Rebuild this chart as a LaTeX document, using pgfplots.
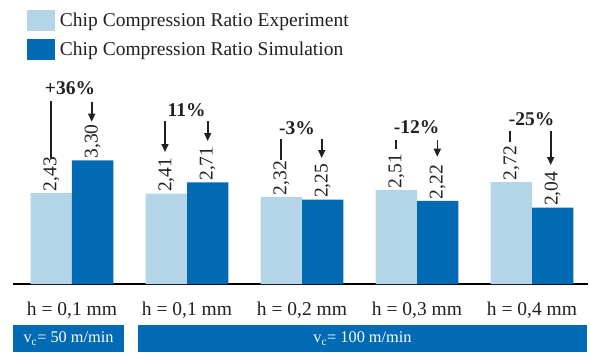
\documentclass[border=0pt]{standalone}
\usepackage{pgfplots}
\pgfplotsset{compat=1.18}
\usepackage{fontspec}
\setmainfont{Liberation Serif}
\usetikzlibrary{arrows.meta}

\definecolor{expblue}{RGB}{180,212,232}
\definecolor{simblue}{RGB}{0,107,180}
\definecolor{txt}{RGB}{35,31,32}

\newcommand{\chartfont}{\fontsize{19.5bp}{22bp}\selectfont}
\newcommand{\bandfont}{\fontsize{16.3bp}{19bp}\selectfont}

\begin{document}
\begin{tikzpicture}[x=1bp,y=1bp]
\useasboundingbox (0,0) rectangle (590,352);

\begin{axis}[
  at={(13bp,68bp)}, anchor=south west,
  scale only axis, width=575bp, height=284bp,
  ymin=0, ymax=7.5733,
  xmin=-0.513, xmax=4.487,
  ybar=0pt, bar width=0.36,
  axis x line*=bottom, axis y line=none,
  x axis line style={line width=1.8bp, -},
  xtick=data,
  xticklabels={h = 0{,}1 mm, h = 0{,}1 mm, h = 0{,}2 mm, h = 0{,}3 mm, h = 0{,}4 mm},
  major tick length=0pt,
  xticklabel style={font=\chartfont, text=txt, anchor=center, yshift=-26bp},
  nodes near coords,
  every node near coord/.append style={rotate=90, anchor=west, font=\chartfont,
    text=txt, inner sep=1.5bp},
  /pgf/number format/.cd, fixed, fixed zerofill, precision=2, use comma,
    assume math mode=true,
  /pgfplots/.cd,
  legend style={draw=none, fill=none, inner sep=0pt, outer sep=0pt,
    at={(0.0243,0.9648)}, anchor=north west, font=\chartfont,
    row sep=8bp, column sep=5bp, text=txt,
    nodes={inner sep=0pt}},
  legend cell align=left,
  legend image code/.code={\fill[#1] (0bp,-10.5bp) rectangle (28bp,10.5bp);},
]
% Experiment
\addplot[fill=expblue, draw=none] coordinates
  {(0,2.43) (1,2.41) (2,2.32) (3,2.51) (4,2.72)};
% Simulation
\addplot[fill=simblue, draw=none] coordinates
  {(0,3.30) (1,2.71) (2,2.25) (3,2.22) (4,2.04)};
\legend{Chip Compression Ratio Experiment, Chip Compression Ratio Simulation}
\end{axis}

% Deviation annotations
\tikzset{dev/.style={font=\bfseries\chartfont, text=txt, inner sep=0pt},
         ln/.style={line width=1.6bp, txt},
         ar/.style={line width=1.6bp, txt, -{Triangle[width=7bp,length=8bp]}}}
\node[dev] at (70,264) {+36\%};
\draw[ln] (50.7,251) -- (50.7,194);
\draw[ar] (91.7,250) -- (91.7,230.3);

\node[dev] at (186.7,242) {11\%};
\draw[ar] (165,231) -- (165,200);
\draw[ar] (207.7,231) -- (207.7,211);

\node[dev] at (297,224) {-3\%};
\draw[ln] (280.7,213) -- (280.7,192);
\draw[ar] (321.7,213) -- (321.7,194);

\node[dev] at (416.7,225) {-12\%};
\draw[ln] (395.7,212) -- (395.7,203);
\draw[ar] (437.3,212) -- (437.3,195.3);

\node[dev] at (531.7,233) {-25\%};
\draw[ln] (510,221.3) -- (510,210.3);
\draw[ar] (550.7,221) -- (550.7,187);

% Cutting speed bands
\fill[simblue] (13,0) rectangle (124,27);
\node[text=white, font=\bandfont] at (68.5,13.5) {v\textsubscript{c}= 50 m/min};
\fill[simblue] (138,0) rectangle (587,27);
\node[text=white, font=\bandfont] at (362.5,13.5) {v\textsubscript{c}= 100 m/min};
\end{tikzpicture}
\end{document}
